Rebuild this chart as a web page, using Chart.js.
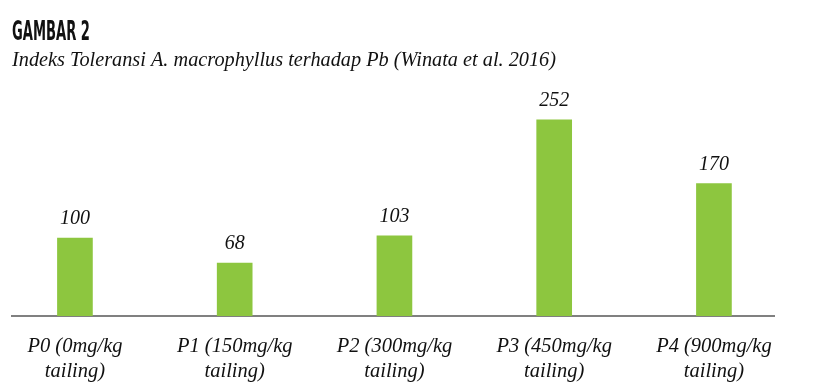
<!DOCTYPE html>
<html>
<head>
<meta charset="utf-8">
<script src="https://cdn.jsdelivr.net/npm/chart.js@4.4.0/dist/chart.umd.min.js"></script>
<style>
  html, body { margin: 0; padding: 0; background: #fff; }
</style>
</head>
<body>
<canvas id="grafico" width="814" height="392"></canvas>
<script>
// Data
const judul = 'GAMBAR 2';
const subjudul = 'Indeks Toleransi A. macrophyllus terhadap Pb (Winata et al. 2016)';
const kategori = [
  ['P0 (0mg/kg', 'tailing)'],
  ['P1 (150mg/kg', 'tailing)'],
  ['P2 (300mg/kg', 'tailing)'],
  ['P3 (450mg/kg', 'tailing)'],
  ['P4 (900mg/kg', 'tailing)']
];
const posisi = [0, 1, 2, 3, 4];
const nilai = [100, 68, 103, 252, 170];

const fontSerif = '"Liberation Serif", "DejaVu Serif", serif';

// judul + subjudul di bagian atas
const judulPlugin = {
  id: 'judul',
  afterDraw(chart) {
    const ctx = chart.ctx;
    ctx.save();
    ctx.fillStyle = '#111';
    ctx.textBaseline = 'alphabetic';
    ctx.textAlign = 'left';
    ctx.font = 'bold 26px "DejaVu Sans Condensed", "Liberation Sans Narrow", "DejaVu Sans", sans-serif';
    const w = ctx.measureText(judul).width;
    const sx = 78 / w;
    ctx.scale(sx, 1);
    ctx.fillText(judul, 12 / sx, 40);
    ctx.restore();

    ctx.save();
    ctx.fillStyle = '#111';
    ctx.textAlign = 'left';
    ctx.textBaseline = 'alphabetic';
    ctx.font = 'italic 20.3px ' + fontSerif;
    ctx.fillText(subjudul, 12, 66);
    ctx.restore();
  }
};

// angka di atas batang
const labelBatang = {
  id: 'labelBatang',
  afterDatasetsDraw(chart) {
    const ctx = chart.ctx;
    const meta = chart.getDatasetMeta(0);
    ctx.save();
    ctx.fillStyle = '#111';
    ctx.textAlign = 'center';
    ctx.textBaseline = 'alphabetic';
    ctx.font = 'italic 20px ' + fontSerif;
    meta.data.forEach(function(bar, i) {
      ctx.fillText(String(nilai[i]), bar.x, bar.y - 14);
    });
    ctx.restore();
  }
};

const config = {
  type: 'bar',
  data: {
    datasets: [{
      data: posisi.map(function(p, i) { return { x: p, y: nilai[i] }; }),
      backgroundColor: '#8dc63f',
      barThickness: 35
    }]
  },
  options: {
    responsive: false,
    animation: false,
    layout: {
      padding: { top: 80, left: 12, right: 40, bottom: 0 }
    },
    plugins: {
      legend: { display: false },
      tooltip: { enabled: false }
    },
    scales: {
      x: {
        type: 'linear',
        min: -0.394,
        max: 4.376,
        offset: false,
        grid: { display: false, drawTicks: false, offset: false },
        border: { display: true, color: '#808080', width: 2 },
        afterFit: function(scale) { scale.height = 76; },
        ticks: {
          stepSize: 1,
          includeBounds: false,
          autoSkip: false,
          maxRotation: 0,
          padding: 18,
          color: '#111',
          font: { family: fontSerif, size: 20.5, style: 'italic', lineHeight: 1.22 },
          callback: function(v) {
            return Number.isInteger(v) && kategori[v] ? kategori[v] : '';
          }
        }
      },
      y: {
        display: false,
        min: 0,
        max: 303
      }
    }
  },
  plugins: [judulPlugin, labelBatang]
};

const grafico = new Chart(document.getElementById('grafico'), config);
</script>
</body>
</html>
